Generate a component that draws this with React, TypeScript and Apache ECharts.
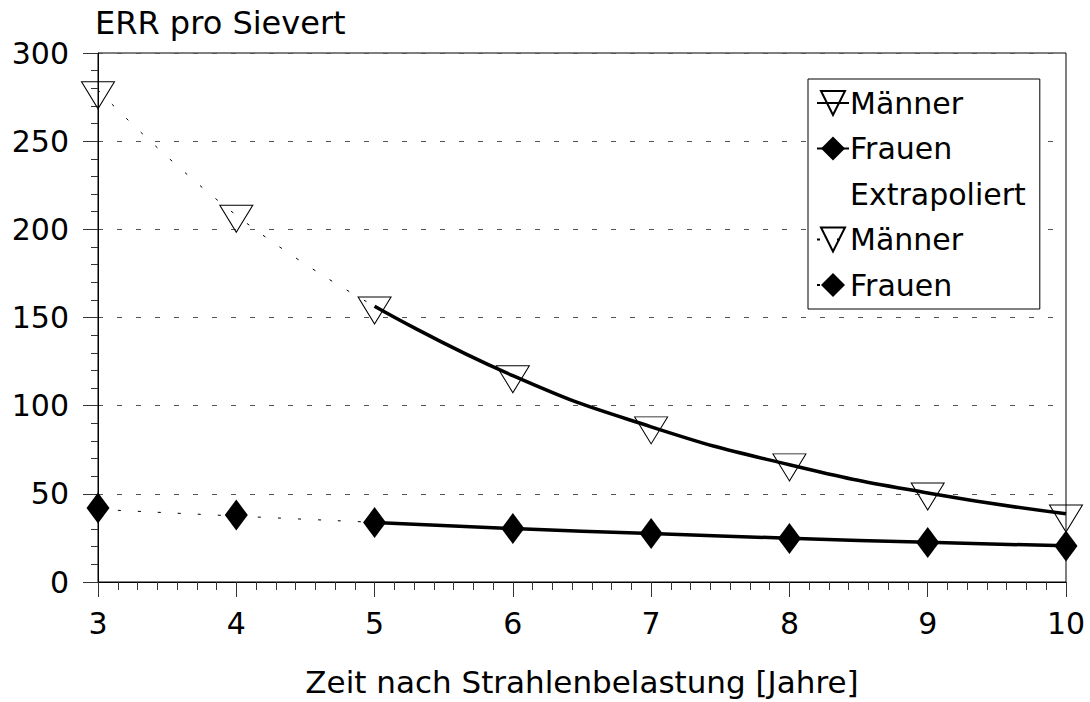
import React, { useEffect, useRef } from 'react';
import * as echarts from 'echarts';

const FONT = '"DejaVu Sans", "Liberation Sans", sans-serif';

// Measured points (markers)
const years = [3, 4, 5, 6, 7, 8, 9, 10];
const menPoints = [276, 206, 154, 115, 86, 65, 48.5, 36];
const womenPoints = [42, 38, 33.7, 30.3, 27.5, 24.7, 22.4, 20.4];

// Fitted curves (solid lines)
const fitYears = [5, 6, 7, 8, 9, 10];
const menFit = [156.4, 117, 88, 66.5, 50.5, 38.7];
const womenFit = [33.8, 30.3, 27.5, 24.8, 22.5, 20.5];

// Extrapolated curves (dotted lines)
const extrapYears = [3, 4, 5];
const menExtrap = [279, 208, 156.4];
const womenExtrap = [41.2, 37.4, 33.8];

const legendNames = ['Männer', 'Frauen', 'Extrapoliert', 'Männer (extrapoliert)', 'Frauen (extrapoliert)'];

const pair = (xs: number[], ys: number[]) => xs.map((x, i) => [x, ys[i]]);

export default function App() {
  const ref = useRef<HTMLDivElement>(null);
  useEffect(() => {
    const chart = echarts.init(ref.current!, null, { renderer: 'svg' });
    const triStyle = { color: 'rgba(255,255,255,0)', borderColor: '#000', borderWidth: 1, opacity: 1 };
    const diaStyle = { color: '#000', borderColor: '#000', borderWidth: 0, opacity: 1 };
    const dotted = { color: '#000', width: 1, type: [3, 17] as any };
    chart.setOption({
      animation: false,
      backgroundColor: '#fff',
      textStyle: { fontFamily: FONT, color: '#000' },
      grid: {
        left: 98, right: 24, top: 53, bottom: 117,
        show: true, borderColor: '#000', borderWidth: 1, backgroundColor: 'transparent',
      },
      xAxis: {
        type: 'value', min: 3, max: 10, interval: 1,
        name: 'Zeit nach Strahlenbelastung [Jahre]',
        nameLocation: 'middle', nameGap: 84,
        nameTextStyle: { fontSize: 31, color: '#000', fontFamily: FONT },
        axisLine: { show: true, onZero: false, lineStyle: { color: '#000', width: 1 } },
        axisTick: { show: true, length: 15, lineStyle: { color: '#333', width: 1 } },
        minorTick: { show: true, splitNumber: 7, length: 8, lineStyle: { color: '#333', width: 1 } },
        axisLabel: { fontSize: 30, margin: 26, color: '#000', fontFamily: FONT },
        splitLine: { show: false },
      },
      yAxis: {
        type: 'value', min: 0, max: 300, interval: 50,
        name: 'ERR pro Sievert', nameLocation: 'end', nameGap: 14,
        nameTextStyle: { fontSize: 32, color: '#000', align: 'left', verticalAlign: 'bottom', padding: [0, 0, 0, -3], fontFamily: FONT },
        axisLine: { show: true, onZero: false, lineStyle: { color: '#000', width: 1 } },
        axisTick: { show: true, length: 15, lineStyle: { color: '#333', width: 1 } },
        minorTick: { show: true, splitNumber: 5, length: 7, lineStyle: { color: '#333', width: 1 } },
        axisLabel: { fontSize: 30, margin: 29, color: '#000', fontFamily: FONT },
        splitLine: { show: true, lineStyle: { color: '#555', width: 1, type: [5, 14] } },
      },
      legend: {
        show: true, orient: 'vertical', left: 808, top: 79,
        padding: [9, 14, 9, 8], itemWidth: 32, itemHeight: 30, itemGap: 15.5,
        backgroundColor: '#fff', borderColor: '#000', borderWidth: 1, borderRadius: 0,
        selectedMode: false,
        textStyle: { fontSize: 30, color: '#000', fontFamily: FONT, padding: [0, 0, 0, -4] },
        formatter: (name: string) => name.split(' (')[0],
        data: legendNames.map((n) => (n === 'Extrapoliert' ? { name: n, icon: 'none' } : { name: n })),
      },
      series: [
        {
          name: legendNames[0], type: 'line', data: pair(fitYears, menFit), smooth: true,
          showSymbol: false, symbol: 'triangle', symbolRotate: 180, symbolSize: [33, 27],
          itemStyle: triStyle, lineStyle: { color: '#000', width: 3.5 }, z: 3,
        },
        {
          name: legendNames[1], type: 'line', data: pair(fitYears, womenFit), smooth: true,
          showSymbol: false, symbol: 'diamond', symbolSize: [23, 31],
          itemStyle: diaStyle, lineStyle: { color: '#000', width: 3.5 }, z: 3,
        },
        {
          name: legendNames[2], type: 'line', data: [], showSymbol: false, symbol: 'none',
          itemStyle: { color: 'rgba(0,0,0,0)' }, lineStyle: { width: 0, color: 'rgba(0,0,0,0)' },
        },
        {
          name: legendNames[3], type: 'line', data: pair(extrapYears, menExtrap), smooth: true,
          showSymbol: false, symbol: 'triangle', symbolRotate: 180, symbolSize: [33, 27],
          itemStyle: triStyle, lineStyle: dotted, z: 2,
        },
        {
          name: legendNames[4], type: 'line', data: pair(extrapYears, womenExtrap), smooth: true,
          showSymbol: false, symbol: 'diamond', symbolSize: [23, 31],
          itemStyle: diaStyle, lineStyle: dotted, z: 2,
        },
        {
          name: 'Männer Messwerte', type: 'scatter', data: pair(years, menPoints),
          symbol: 'triangle', symbolRotate: 180, symbolSize: [33, 27], itemStyle: triStyle, z: 4,
        },
        {
          name: 'Frauen Messwerte', type: 'scatter', data: pair(years, womenPoints),
          symbol: 'diamond', symbolSize: [23, 31], itemStyle: diaStyle, z: 5,
        },
      ],
    });
    return () => chart.dispose();
  }, []);
  return <div ref={ref} style={{ position: 'fixed', left: 0, top: 0, width: 1090, height: 702 }} />;
}
